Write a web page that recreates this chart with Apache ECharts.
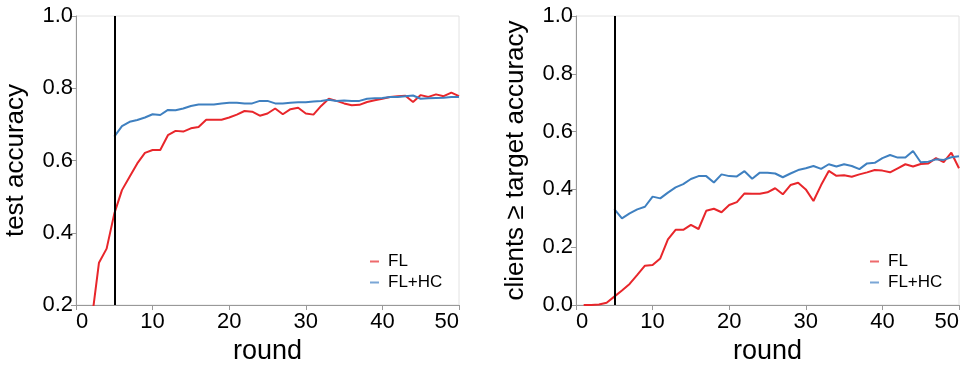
<!DOCTYPE html>
<html>
<head>
<meta charset="utf-8">
<script src="https://cdn.jsdelivr.net/npm/echarts@6/dist/echarts.min.js"></script>
<style>
  html, body { margin: 0; padding: 0; background: #fff; }
  #chart { width: 965px; height: 370px; }
</style>
</head>
<body>
<div id="chart"></div>
<script>
// rounds 1..50
var rounds = [];
for (var i = 1; i <= 50; i++) rounds.push(i);

// 左图: test accuracy
var accFL = [0.10, 0.15, 0.317, 0.356, 0.453, 0.518, 0.555, 0.592, 0.621, 0.629,
  0.629, 0.670, 0.682, 0.680, 0.689, 0.693, 0.713, 0.713, 0.713, 0.719,
  0.727, 0.737, 0.735, 0.724, 0.730, 0.744, 0.728, 0.742, 0.746, 0.730,
  0.727, 0.751, 0.771, 0.765, 0.758, 0.753, 0.754, 0.762, 0.767, 0.771,
  0.776, 0.778, 0.779, 0.762, 0.781, 0.776, 0.783, 0.778, 0.788, 0.778];
// FL+HC starts at round 5
var accHC = [0.666, 0.695, 0.707, 0.712, 0.719, 0.728, 0.726, 0.740, 0.739, 0.744,
  0.751, 0.755, 0.755, 0.755, 0.758, 0.760, 0.760, 0.758, 0.758, 0.765,
  0.765, 0.758, 0.758, 0.760, 0.761, 0.761, 0.763, 0.765, 0.768, 0.765,
  0.766, 0.765, 0.765, 0.771, 0.772, 0.773, 0.776, 0.776, 0.778, 0.780,
  0.771, 0.772, 0.773, 0.774, 0.776, 0.776];

// 右图: clients >= target accuracy
var cliFL = [0.0, 0.0, 0.002, 0.008, 0.029, 0.050, 0.073, 0.104, 0.136, 0.138,
  0.161, 0.227, 0.260, 0.260, 0.277, 0.263, 0.326, 0.333, 0.321, 0.346,
  0.356, 0.386, 0.385, 0.385, 0.390, 0.404, 0.383, 0.415, 0.423, 0.400,
  0.360, 0.415, 0.464, 0.447, 0.449, 0.444, 0.452, 0.459, 0.467, 0.465,
  0.459, 0.473, 0.487, 0.479, 0.488, 0.490, 0.508, 0.494, 0.527, 0.473];
var cliHC = [0.332, 0.300, 0.317, 0.331, 0.340, 0.375, 0.369, 0.389, 0.407, 0.418,
  0.436, 0.446, 0.446, 0.424, 0.452, 0.446, 0.445, 0.463, 0.437, 0.458,
  0.458, 0.455, 0.442, 0.455, 0.467, 0.473, 0.481, 0.471, 0.487, 0.479,
  0.487, 0.481, 0.470, 0.490, 0.492, 0.508, 0.519, 0.510, 0.510, 0.533,
  0.494, 0.496, 0.504, 0.502, 0.511, 0.515];

var hcStart = 5;        // HC starts here (black line)

var red = '#e8262b';
var blue = '#3f80c0';
var font = 'Liberation Sans, Arial, Helvetica, sans-serif';

function pairs(xs, ys) {
  return ys.map(function (v, k) { return [xs[k], v]; });
}

function xAxisOf(idx) {
  return {
    gridIndex: idx, type: 'value', min: 0, max: 50, interval: 10,
    name: 'round', nameLocation: 'middle', nameGap: 32,
    nameTextStyle: { fontSize: 27, color: '#000', fontFamily: font },
    axisLine: { lineStyle: { color: '#999' } },
    axisTick: { length: 5, lineStyle: { color: '#999' } },
    axisLabel: { fontSize: 22, color: '#000', fontFamily: font, margin: 6,
      alignMinLabel: 'left', alignMaxLabel: 'right' },
    splitLine: { show: false }
  };
}

function yAxisOf(idx, min, title) {
  return {
    gridIndex: idx, type: 'value', min: min, max: 1, interval: 0.2,
    name: title, nameLocation: 'middle', nameGap: 47,
    nameTextStyle: { fontSize: 26, color: '#000', fontFamily: font },
    axisLine: { show: true, lineStyle: { color: '#999' } },
    axisTick: { show: true, length: 5, lineStyle: { color: '#999' } },
    axisLabel: { fontSize: 22, color: '#000', fontFamily: font, margin: 3,
      formatter: function (v) { return v.toFixed(1); } },
    splitLine: { show: false }
  };
}

function lineSeries(name, idx, data, color, withMark) {
  var s = {
    name: name, type: 'line', xAxisIndex: idx, yAxisIndex: idx,
    data: data, showSymbol: false, symbol: 'none',
    lineStyle: { color: color, width: 2 }, itemStyle: { color: color },
    animation: false
  };
  if (withMark) {
    s.markLine = {
      silent: true, symbol: 'none', label: { show: false },
      lineStyle: { color: '#000', width: 2, type: 'solid' },
      data: [{ xAxis: hcStart }]
    };
  }
  return s;
}

// short dash icon, with some empty room before the text
var dashIcon = 'path://M0,0H9V2H0Z M13,0H13.01V2H13Z';

function legendOf(left) {
  return {
    orient: 'vertical', left: left, top: 248, itemGap: 4,
    itemWidth: 13, itemHeight: 2, icon: dashIcon,
    textStyle: { fontSize: 17, color: '#000', fontFamily: font },
    data: [{ name: 'FL', itemStyle: { color: '#ee6a6c' } },
      { name: 'FL+HC', itemStyle: { color: '#7aa6d6' } }]
  };
}

var chart = echarts.init(document.getElementById('chart'));
chart.setOption({
  animation: false,
  textStyle: { fontFamily: font },
  grid: [
    { left: 76, right: 506, top: 16, bottom: 65, show: true, borderColor: '#e2e2e2', borderWidth: 1 },
    { left: 576, right: 6, top: 16, bottom: 65, show: true, borderColor: '#e2e2e2', borderWidth: 1 }
  ],
  legend: [legendOf(365), legendOf(865)],
  xAxis: [xAxisOf(0), xAxisOf(1)],
  yAxis: [yAxisOf(0, 0.2, 'test accuracy'), yAxisOf(1, 0, 'clients ≥ target accuracy')],
  series: [
    lineSeries('FL', 0, pairs(rounds, accFL), red, true),
    lineSeries('FL+HC', 0, pairs(rounds.slice(hcStart - 1), accHC), blue, false),
    lineSeries('FL', 1, pairs(rounds, cliFL), red, true),
    lineSeries('FL+HC', 1, pairs(rounds.slice(hcStart - 1), cliHC), blue, false)
  ]
});
</script>
</body>
</html>
